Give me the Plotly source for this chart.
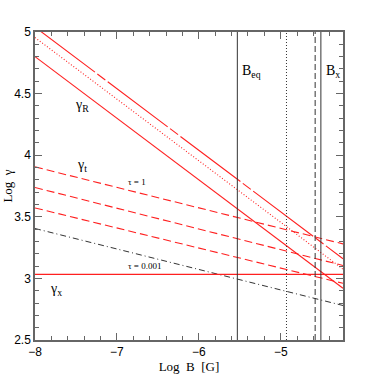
import plotly.graph_objects as go

# x range of the plot (Log B)
x_ends = [-8.0, -4.24]

# red diagonal lines (gamma_R family), y at the two ends
gR_solid = [4.80, 2.92]
gR_dotted = [4.955, 3.075]
gR_longdash = [5.04, 3.16]

# red dashed gamma_t lines
gt_top = [3.905, 3.28]
gt_mid = [3.738, 3.105]
gt_bot = [3.572, 2.96]

# black dash-dot gamma_x
gx = [3.405, 2.78]

# horizontal red line
h_level = 3.033

# vertical lines
b_eq = -5.53
b_dotted = -4.93
b_dashed = -4.58
b_x = -4.51

RED = "#ff2020"
BLK = "#333333"

fig = go.Figure()

def add_line(xs, ys, color, dash, width=1.1):
    fig.add_trace(go.Scatter(x=xs, y=ys, mode="lines",
                             line=dict(color=color, width=width, dash=dash),
                             showlegend=False, hoverinfo="skip"))

add_line(x_ends, gR_solid, RED, "solid")
add_line(x_ends, gR_dotted, RED, "1px,2px")
add_line(x_ends, gR_longdash, RED, "75px,3px,10px,3px")
add_line(x_ends, gt_top, RED, "8px,4px")
add_line(x_ends, gt_mid, RED, "8px,4px")
add_line(x_ends, gt_bot, RED, "8px,4px")
add_line(x_ends, gx, BLK, "6px,3px,1px,3px", 1.0)
add_line(x_ends, [h_level, h_level], RED, "solid")

for xv, d in [(b_eq, "solid"), (b_dotted, "1px,2px"), (b_dashed, "6px,3px"), (b_x, "solid")]:
    add_line([xv, xv], [2.5, 5.0], BLK, d, 1.0)

serif = "Liberation Serif, Times New Roman, serif"
sans = "Liberation Sans, Arial, sans-serif"

labels = [
    (-7.43, 4.40, "γ<sub>R</sub>", 14),
    (-7.43, 3.92, "γ<sub>t</sub>", 14),
    (-7.74, 2.91, "γ<sub>x</sub>", 14),
    (-6.76, 3.78, "τ = 1", 9),
    (-6.66, 3.10, "τ = 0.001", 9),
    (-5.36, 4.68, "B<sub>eq</sub>", 14),
    (-4.36, 4.68, "B<sub>x</sub>", 14),
]
for lx, ly, txt, fs in labels:
    fig.add_annotation(x=lx, y=ly, text=txt, showarrow=False,
                       font=dict(family=serif, size=fs, color="black"))

axis_common = dict(
    showgrid=False, zeroline=False, showline=True, linecolor="#666666", linewidth=1.5,
    mirror="ticks", ticks="inside", ticklen=7, tickcolor="#666666", tickwidth=1,
    tickfont=dict(family=sans, size=12, color="black"), automargin=False,
)

fig.update_xaxes(range=[-8, -4.24], dtick=1, tick0=-8,
                 minor=dict(dtick=0.2, ticks="inside", ticklen=4, tickcolor="#666666"),
                 title=dict(text="Log  B  [G]", font=dict(family=serif, size=13, color="black"), standoff=2),
                 **axis_common)
fig.update_yaxes(range=[2.5, 5.0], dtick=0.5, tick0=2.5,
                 minor=dict(dtick=0.1, ticks="inside", ticklen=4, tickcolor="#666666"),
                 title=dict(text="Log  γ", font=dict(family=serif, size=13, color="black"), standoff=2),
                 **axis_common)

fig.update_layout(width=374, height=374, margin=dict(l=35, r=31, t=32, b=34),
                  plot_bgcolor="white", paper_bgcolor="white")

# drop the default page margin so the figure sits at the window's corner
fig.write_html("out.html", config={"displayModeBar": False},
               post_script="document.body.style.margin='0';")
